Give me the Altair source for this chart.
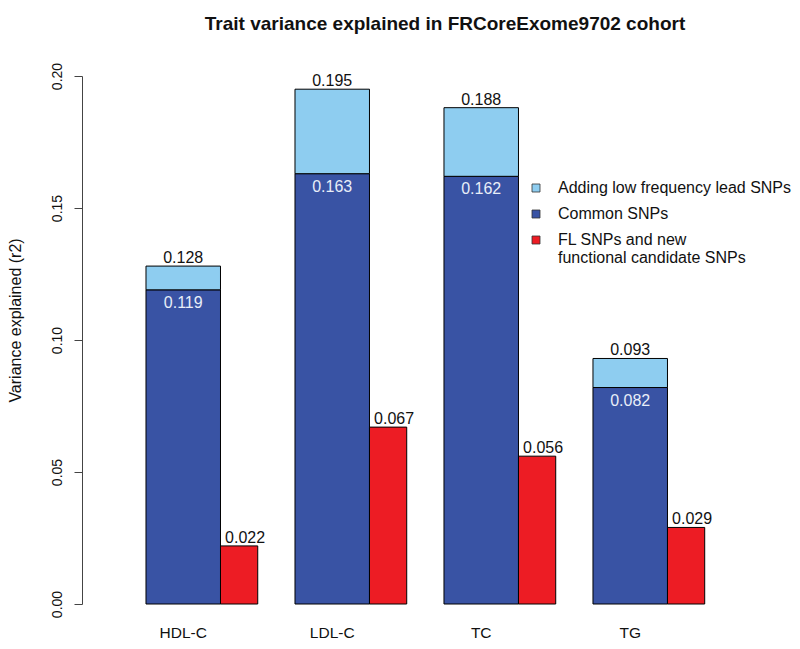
import altair as alt
import pandas as pd

traits = ["HDL-C", "LDL-C", "TC", "TG"]
common = [0.119, 0.163, 0.162, 0.082]
total = [0.128, 0.195, 0.188, 0.093]
fl = [0.022, 0.067, 0.056, 0.029]

series = ["Adding low frequency lead SNPs", "Common SNPs",
          "FL SNPs and new functional candidate SNPs"]
colors = ["#8ecdf0", "#3953a4", "#ed1c24"]

FONT = "Liberation Sans"

# group layout in bar units: blue bar 2 units wide, red bar 1 unit, gap 1 unit
bars = []
labels = []
for i, t in enumerate(traits):
    g = 4 * i
    bars.append(dict(trait=t, series=series[1], x0=g + 1, x1=g + 3, y0=0.0, y1=common[i]))
    bars.append(dict(trait=t, series=series[0], x0=g + 1, x1=g + 3, y0=common[i], y1=total[i]))
    bars.append(dict(trait=t, series=series[2], x0=g + 3, x1=g + 4, y0=0.0, y1=fl[i]))
    labels.append(dict(trait=t, kind="top", x=g + 2, val=total[i], txt=f"{total[i]:.3f}"))
    labels.append(dict(trait=t, kind="inside", x=g + 2, val=common[i], txt=f"{common[i]:.3f}"))
    labels.append(dict(trait=t, kind="red", x=g + 3.5, val=fl[i], txt=f"{fl[i]:.3f}"))
    labels.append(dict(trait=t, kind="cat", x=g + 2, val=0.0, txt=t))

bars_df = pd.DataFrame(bars)
lab_df = pd.DataFrame(labels)

xscale = alt.Scale(domain=[-0.718, 17.86], nice=False, zero=False)
yscale = alt.Scale(domain=[0, 0.2], nice=False)
ytitle = "Variance explained (r2)"
yaxis = alt.Axis(
    values=[0, 0.05, 0.1, 0.15, 0.2], format=".2f", grid=False,
    labelAngle=270, labelAlign="center", labelBaseline="bottom",
    labelFontSize=14, labelColor="#111", labelPadding=10, labelFont=FONT,
    tickSize=8, tickColor="#444", domainColor="#444", labelFlush=False,
    titleFontSize=16, titleFontWeight="normal", titleColor="#111", titleFont=FONT,
    titleAngle=270, titleAlign="center", titleBaseline="middle",
    titleX=-67, titleY=244,
)

base_bar = alt.Chart(bars_df).mark_bar(stroke="black", strokeWidth=1).encode(
    x=alt.X("x0:Q", scale=xscale, axis=None),
    x2="x1:Q",
    y=alt.Y("y0:Q", scale=yscale, axis=yaxis, title=ytitle),
    y2="y1:Q",
    color=alt.Color(
        "series:N",
        scale=alt.Scale(domain=series, range=colors),
        legend=alt.Legend(
            title=None, orient="none", legendX=446, legendY=104,
            symbolType="square", symbolSize=64, symbolStrokeColor="#333",
            symbolStrokeWidth=0.8, symbolOpacity=1,
            labelFontSize=16, labelFont=FONT, labelColor="#111",
            labelLimit=400, labelOffset=14, rowPadding=10,
            labelExpr="datum.label == 'FL SNPs and new functional candidate SNPs' ? ['FL SNPs and new', 'functional candidate SNPs'] : datum.label",
        ),
    ),
)


def text_layer(kind, **mk):
    return alt.Chart(lab_df).transform_filter(alt.datum.kind == kind).mark_text(
        font=FONT, **mk
    ).encode(
        x=alt.X("x:Q", scale=xscale, axis=None),
        y=alt.Y("val:Q", scale=yscale, axis=yaxis, title=ytitle),
        text="txt:N",
    )


top = text_layer("top", fontSize=16, baseline="bottom", dy=0, color="#111")
inside = text_layer("inside", fontSize=16, baseline="middle", dy=13, color="#e8eef8")
red = text_layer("red", fontSize=16, baseline="bottom", dy=0, dx=6, color="#111")
cat = text_layer("cat", fontSize=15.5, baseline="middle", dy=29, color="#111")

chart = alt.layer(base_bar, top, inside, red, cat).properties(
    width=692, height=528,
    background="white",
    title=alt.TitleParams(
        "Trait variance explained in FRCoreExome9702 cohort",
        fontSize=19, fontWeight="bold", font=FONT, color="#111",
        anchor="middle", frame="group", dx=17, offset=28,
    ),
    autosize=alt.AutoSizeParams(type="none"),
    padding={"left": 74, "top": 68, "right": 18, "bottom": 37},
).configure_view(strokeWidth=0, stroke="transparent")

chart.save("out.html", embed_options={"renderer": "svg", "actions": False})
